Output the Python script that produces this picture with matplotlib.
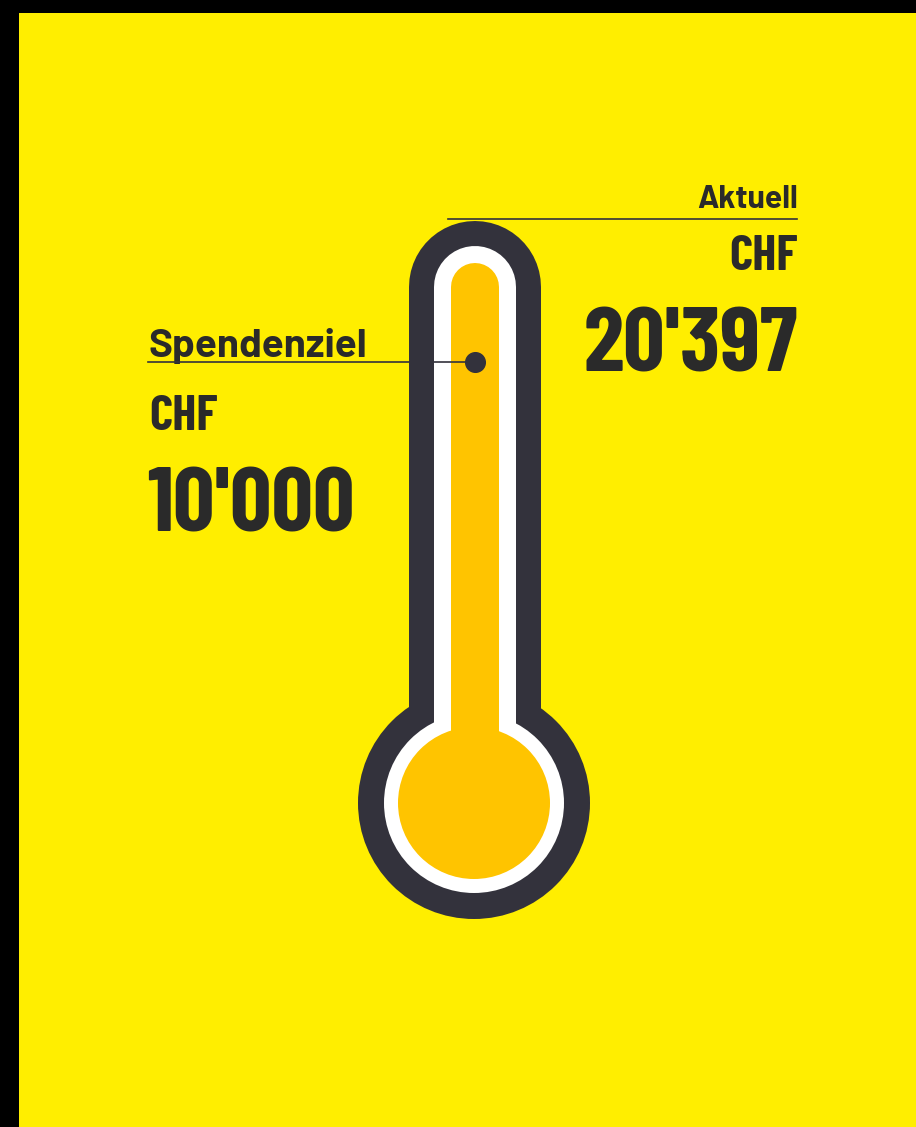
import matplotlib
matplotlib.use("Agg")
import matplotlib.pyplot as plt
from matplotlib.patches import Circle
from matplotlib.transforms import blended_transform_factory

# donation data
labels = ["Spendenziel", "Aktuell"]
currency = "CHF"
values = [10000, 20397]
value_texts = ["10'000", "20'397"]
scale_max = 12800  # value at the top of the tube

W, H = 916, 1127
YELLOW = "#FFEE00"
DARK = "#33323C"
ORANGE = "#FFC400"
TEXT = "#2A2A2A"

plt.rcParams["font.family"] = ["Barlow Condensed", "Roboto Condensed", "DejaVu Sans"]
LABEL_FONT = ["Barlow", "Barlow Semi Condensed", "DejaVu Sans"]

fig = plt.figure(figsize=(W / 100, H / 100), dpi=100, facecolor="black")
# black frame on the top and left
left, top = 19, 13
ax = fig.add_axes([left / W, 0, (W - left) / W, (H - top) / H])
ax.set_xlim(left, W)
ax.set_ylim(H, top)
ax.set_facecolor(YELLOW)
ax.axis("off")
ax.add_patch(plt.Rectangle((left, top), W - left, H - top, color=YELLOW, zorder=0))

# thermometer geometry (pixels)
cx = 475
bulb_cy, tube_top = 803, 287
px2pt = 72 / 100
layers = [(66, 116, DARK), (41, 90, "white"), (24, 76, ORANGE)]
for i, (half_w, bulb_r, col) in enumerate(layers):
    z = 2 + i
    ax.add_patch(Circle((cx - 1, bulb_cy), bulb_r, color=col, lw=0, zorder=z))
    ax.plot([cx, cx], [tube_top, bulb_cy - 40], color=col, lw=2 * half_w * px2pt,
            solid_capstyle="round", zorder=z)

# value axis over the tube (from tube top to where the bulb starts)
px_top, px_bot = 265, 707
ax_val = fig.add_axes([(cx - 24) / W, (H - px_bot) / H, 48 / W, (px_bot - px_top) / H])
ax_val.set_xlim(0, 1)
ax_val.set_ylim(0, scale_max)
ax_val.axis("off")
ax_val.patch.set_alpha(0)

goal, current = values
ax_val.scatter([0.5], [goal], s=200, color=DARK, zorder=6, clip_on=False)
tr = blended_transform_factory(ax.transData, ax_val.transData)
ax_val.plot([148, cx + 2], [goal, goal], color=DARK, lw=1.2, transform=tr, clip_on=False, zorder=5)

# current marker line at the top of the tube
ax.plot([448, 797], [219, 219], color=DARK, lw=1.2, zorder=6)

# labels right (current)
ax.text(798, 208, labels[1], ha="right", va="baseline", fontsize=23, fontweight="bold",
        color=TEXT, family=LABEL_FONT)
ax.text(798, 270, currency, ha="right", va="baseline", fontsize=36, fontweight="bold", color=TEXT)
ax.text(798, 372, value_texts[1], ha="right", va="baseline", fontsize=66, fontweight="bold", color=TEXT)

# labels left (goal)
ax.text(149, 357, labels[0], ha="left", va="baseline", fontsize=29, fontweight="bold",
        color=TEXT, family=LABEL_FONT)
ax.text(149, 430, currency, ha="left", va="baseline", fontsize=36, fontweight="bold", color=TEXT)
ax.text(147, 532, value_texts[0], ha="left", va="baseline", fontsize=66, fontweight="bold", color=TEXT)

fig.savefig("out.png", dpi=100, facecolor="black")
